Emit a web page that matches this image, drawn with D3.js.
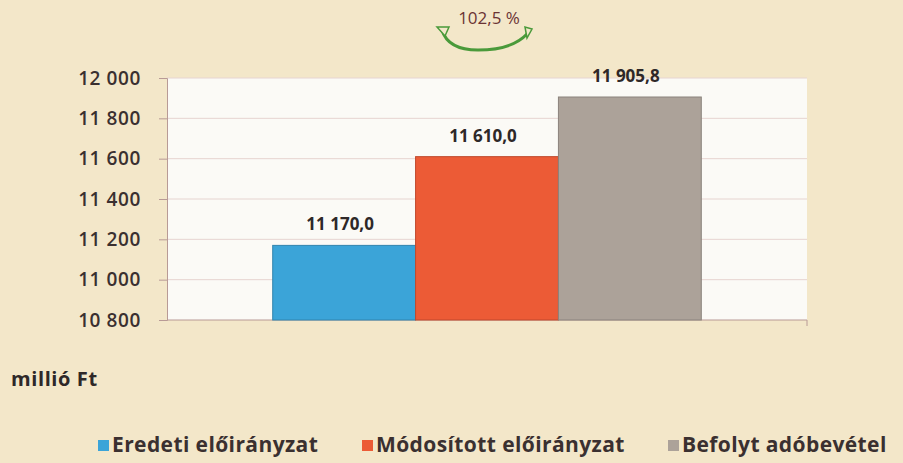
<!DOCTYPE html>
<html>
<head>
<meta charset="utf-8">
<script src="https://d3js.org/d3.v7.min.js"></script>
<style>
  body { margin: 0; background: #f3e7c9; }
  text { font-family: "Open Sans", Lato, sans-serif; }
</style>
</head>
<body>
<script>
// chart data
const series = ["Eredeti előirányzat", "Módosított előirányzat", "Befolyt adóbevétel"];
const values = [11170.0, 11610.0, 11905.8];
const valueLabels = ["11 170,0", "11 610,0", "11 905,8"];
const colors = ["#3ba4d8", "#ec5b36", "#aca299"];
const yTicks = [10800, 11000, 11200, 11400, 11600, 11800, 12000];
const yTickLabels = ["10 800", "11 000", "11 200", "11 400", "11 600", "11 800", "12 000"];
const ratioLabel = "102,5 %";

const W = 903, H = 463;
const plot = {left: 167, right: 807, top: 78, bottom: 320};

const svg = d3.select("body").append("svg")
    .attr("width", W)
    .attr("height", H);

svg.append("rect").attr("width", W).attr("height", H).attr("fill", "#f3e7c9");

const y = d3.scaleLinear()
    .domain([10800, 12000])
    .range([plot.bottom, plot.top]);

const x = d3.scaleBand()
    .domain(series)
    .range([plot.left, plot.right])
    .paddingInner(0)
    .paddingOuter(0.74);

// plot background
svg.append("rect")
    .attr("x", plot.left).attr("y", plot.top)
    .attr("width", plot.right - plot.left).attr("height", plot.bottom - plot.top)
    .attr("fill", "#fbfaf6");

// gridlines
svg.append("g").selectAll("line")
    .data(yTicks.slice(1))
    .join("line")
    .attr("x1", plot.left).attr("x2", plot.right)
    .attr("y1", d => y(d)).attr("y2", d => y(d))
    .attr("stroke", "#e6d4d0")
    .attr("stroke-width", 1);

// y axis
const yAxis = d3.axisLeft(y)
    .tickValues(yTicks)
    .tickFormat((d, i) => yTickLabels[i])
    .tickSize(8)
    .tickPadding(18);
const ga = svg.append("g")
    .attr("transform", `translate(${plot.left},0)`)
    .call(yAxis);
ga.select(".domain").attr("stroke", "#b89a96");
ga.selectAll(".tick line").attr("stroke", "#b89a96");
ga.selectAll(".tick text")
    .attr("fill", "#3a3030")
    .style("font-size", "19px")
    .style("font-weight", "600")
    .style("letter-spacing", "0.6px")
    .style("font-family", "'Open Sans', sans-serif");

// bottom axis line
svg.append("line")
    .attr("x1", plot.left).attr("x2", plot.right)
    .attr("y1", plot.bottom).attr("y2", plot.bottom)
    .attr("stroke", "#b89a96");
svg.append("line")
    .attr("x1", plot.right).attr("x2", plot.right)
    .attr("y1", plot.bottom).attr("y2", plot.bottom + 6)
    .attr("stroke", "#b89a96");

// bars
svg.append("g").selectAll("rect")
    .data(values)
    .join("rect")
    .attr("x", (d, i) => x(series[i]))
    .attr("y", d => y(d))
    .attr("width", x.bandwidth())
    .attr("height", d => y(10800) - y(d))
    .attr("fill", (d, i) => colors[i])
    .attr("stroke", (d, i) => d3.color(colors[i]).darker(0.6))
    .attr("stroke-width", 1);

// value labels
svg.append("g").selectAll("text")
    .data(values)
    .join("text")
    .attr("x", (d, i) => x(series[i]) + x.bandwidth() / 2 - 4)
    .attr("y", d => y(d) - 15)
    .attr("text-anchor", "middle")
    .attr("fill", "#2e2828")
    .style("font-size", "17px")
    .style("font-weight", "bold")
    .text((d, i) => valueLabels[i]);

// unit label
svg.append("text")
    .attr("x", 11).attr("y", 386)
    .attr("fill", "#2e2828")
    .style("font-size", "20px")
    .style("font-weight", "bold")
    .style("letter-spacing", "0.6px")
    .text("millió Ft");

// ratio annotation
svg.append("text")
    .attr("x", 489).attr("y", 24)
    .attr("text-anchor", "middle")
    .attr("fill", "#6b3434")
    .style("font-size", "17px")
    .text(ratioLabel);

const arcG = svg.append("g").attr("fill", "none").attr("stroke", "#4a9a3a");
arcG.append("path")
    .attr("d", "M442,30 Q448,50 478,50 Q512,50 527,34")
    .attr("stroke-width", 3);
arcG.append("path")
    .attr("d", "M437,27 L449,27 L445,36 Z")
    .attr("fill", "#f3e7c9").attr("stroke-width", 1.5);
arcG.append("path")
    .attr("d", "M532,29 L525,27 L527,38 Z")
    .attr("fill", "#f3e7c9").attr("stroke-width", 1.5);

// legend
const legendX = [98, 362, 668];
const lg = svg.append("g").selectAll("g")
    .data(series)
    .join("g")
    .attr("transform", (d, i) => `translate(${legendX[i]},440)`);
lg.append("rect")
    .attr("width", 11).attr("height", 11)
    .attr("fill", (d, i) => colors[i]);
lg.append("text")
    .attr("x", 14).attr("y", 12)
    .attr("fill", "#3a3030")
    .style("font-size", "21px")
    .style("font-weight", "bold")
    .style("letter-spacing", "0.4px")
    .text(d => d);
</script>
</body>
</html>
